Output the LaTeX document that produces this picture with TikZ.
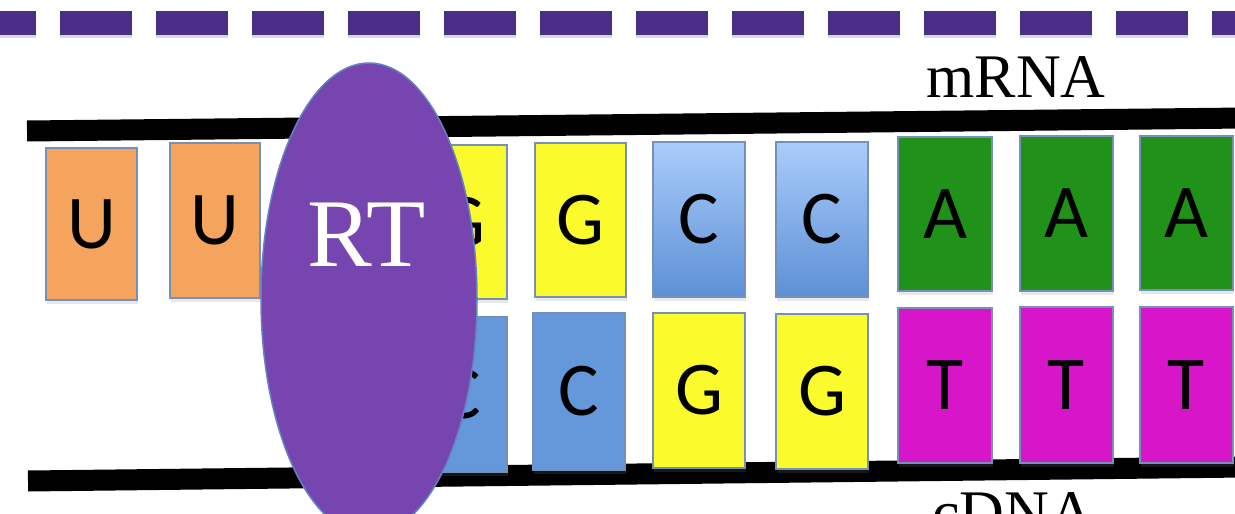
\documentclass[tikz,border=0pt]{standalone}
\usepackage{fontspec}
\setmainfont{Liberation Serif}
\newfontfamily\basefont{Carlito}
\usetikzlibrary{shapes.geometric,shadows}
\definecolor{dashpurple}{RGB}{76,46,138}
\definecolor{rtpurple}{RGB}{118,69,175}
\definecolor{rtedge}{RGB}{100,130,195}
\definecolor{uorange}{RGB}{244,164,92}
\definecolor{gyellow}{RGB}{250,250,45}
\definecolor{cblue}{RGB}{100,152,218}
\definecolor{cbluelight}{RGB}{170,204,250}
\definecolor{cbluedark}{RGB}{92,144,214}
\definecolor{agreen}{RGB}{32,146,26}
\definecolor{tmagenta}{RGB}{214,22,200}
\definecolor{boxedge}{RGB}{118,145,185}
\begin{document}
\begin{tikzpicture}[x=1pt,y=-1pt,
  nucbox/.style={draw=boxedge, line width=1.8pt, inner sep=0pt,
    font=\basefont\fontsize{76}{76}\selectfont, text=black,
    drop shadow={opacity=0.18, shadow xshift=1pt, shadow yshift=-4pt}},
  ubox/.style={nucbox, fill=uorange},
  gbox/.style={nucbox, fill=gyellow},
  cbox/.style={nucbox, fill=cblue},
  cgrad/.style={nucbox, top color=cbluelight, bottom color=cbluedark},
  abox/.style={nucbox, fill=agreen},
  tbox/.style={nucbox, fill=tmagenta},
  strand/.style={line width=21pt, black},
  dashline/.style={line width=24pt, dashpurple, dash pattern=on 72pt off 24pt},
  dashshade/.style={line width=24pt, black, opacity=0.15, dash pattern=on 72pt off 24pt},
  enzyme/.style={ellipse, draw=rtedge, line width=1.5pt, fill=rtpurple, inner sep=0pt,
    minimum width=216pt, minimum height=472pt},
  serifbig/.style={font=\fontsize{97}{97}\selectfont, text=white, inner sep=0pt},
  seriflabel/.style={font=\fontsize{62}{62}\selectfont, text=black, inner sep=0pt}
]
\useasboundingbox (0,0) rectangle (1235,514);
\fill[white] (0,0) rectangle (1235,514);

% dashed line at top
\coordinate (dL) at (-36,23);
\coordinate (dR) at (1300,23);
\draw[dashshade] ([yshift=-3pt]dL) -- ([yshift=-3pt]dR);
\draw[dashline] (dL) -- (dR);

% strands
\coordinate (mL) at (27,131);
\coordinate (mR) at (1245,118);
\coordinate (cL) at (28,481);
\coordinate (cR) at (1245,467);
\draw[strand] (mL) -- (mR);
\draw[strand] (cL) -- (cR);

% top row (mRNA)
\node[ubox, minimum width=91pt, minimum height=152pt] (t1) at (91.5,224) {U};
\node[ubox, minimum width=90pt, minimum height=155pt] (t2) at (215,220.5) {U};
\node[gbox, minimum width=92pt, minimum height=154pt] (t3) at (461,222) {G};
\node[gbox, minimum width=91pt, minimum height=154pt] (t4) at (580.5,220) {G};
\node[cgrad, minimum width=92pt, minimum height=155pt] (t5) at (699,219.5) {C};
\node[cgrad, minimum width=92pt, minimum height=155pt] (t6) at (822,219.5) {C};
\node[abox, minimum width=94pt, minimum height=154pt] (t7) at (945,214) {A};
\node[abox, minimum width=93pt, minimum height=155pt] (t8) at (1066.5,213.5) {A};
\node[abox, minimum width=93pt, minimum height=154pt] (t9) at (1186.5,213) {A};

% bottom row (cDNA)
\node[cbox, minimum width=92pt, minimum height=155pt] (b3) at (461,394.5) {C};
\node[cbox, minimum width=92pt, minimum height=157pt] (b4) at (579,391.5) {C};
\node[gbox, minimum width=92pt, minimum height=155pt] (b5) at (699,390.5) {G};
\node[gbox, minimum width=92pt, minimum height=155pt] (b6) at (822,391.5) {G};
\node[tbox, minimum width=94pt, minimum height=155pt] (b7) at (945,385.5) {T};
\node[tbox, minimum width=93pt, minimum height=156pt] (b8) at (1066.5,385) {T};
\node[tbox, minimum width=93pt, minimum height=156pt] (b9) at (1186.5,385) {T};

% reverse transcriptase
\node[enzyme] (rt) at (369,299) {};
\node[serifbig, anchor=base] (rtlabel) at (367,266) {RT};

% labels
\node[seriflabel, anchor=base] (mrna) at (1016,97) {mRNA};
\node[seriflabel, anchor=base] (cdna) at (1013,533) {cDNA};
\end{tikzpicture}
\end{document}
